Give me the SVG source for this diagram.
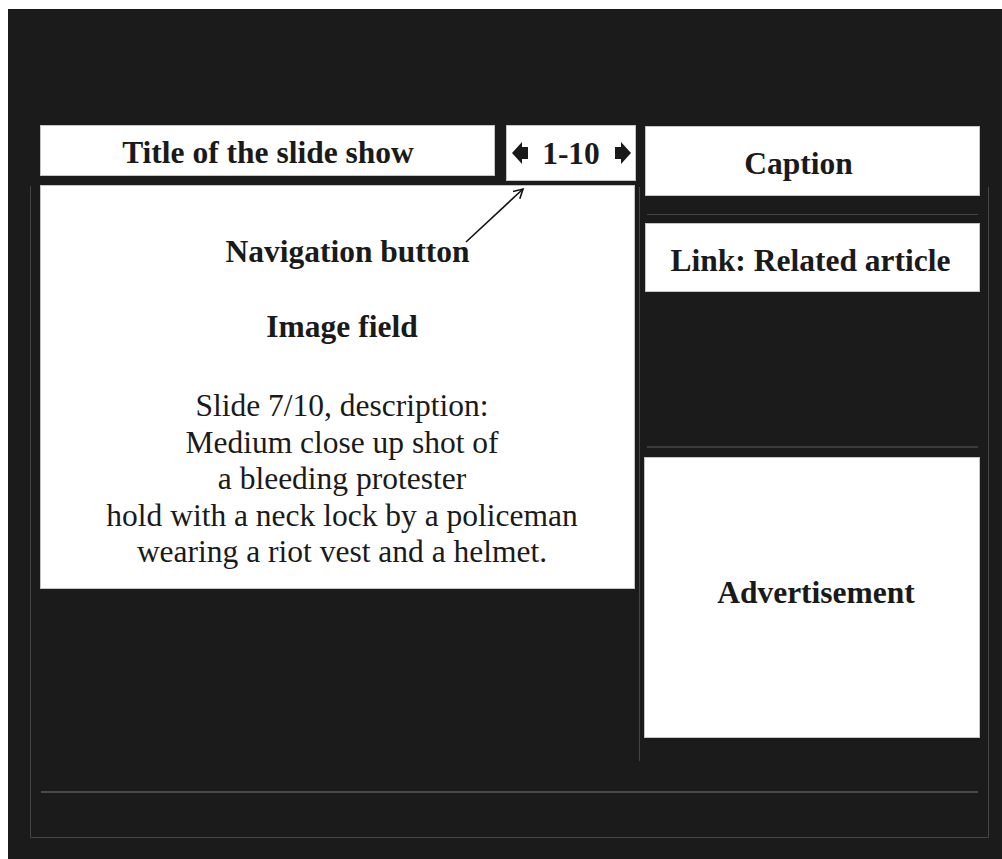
<svg xmlns="http://www.w3.org/2000/svg" width="1002" height="859" viewBox="0 0 1002 859">
<style>
.box{fill:#ffffff;stroke:#c4c4c4;stroke-width:1}
.b{font-family:"Liberation Serif","Times New Roman",serif;font-weight:bold;font-size:31.5px;fill:#1a1a1a;text-anchor:middle}
.r{font-family:"Liberation Serif","Times New Roman",serif;font-size:31.5px;fill:#1a1a1a;text-anchor:middle}
.frame{fill:none;stroke:#454545;stroke-width:1}
</style>
<defs>
<marker id="ah" markerWidth="12" markerHeight="12" refX="10" refY="6" orient="auto" markerUnits="userSpaceOnUse">
<path d="M1,1 L10,6 L1,11" fill="none" stroke="#111" stroke-width="1.6"/>
</marker>
</defs>
<rect x="0" y="0" width="1002" height="859" fill="#ffffff"/>
<rect x="8" y="9" width="994" height="850" fill="#1b1b1b"/>
<g id="frame">
<polyline class="frame" points="30.5,186 30.5,837.5 988.5,837.5 988.5,187"/>
<line x1="639.5" y1="187" x2="639.5" y2="761" stroke="#454545" stroke-width="1"/>
<line x1="647" y1="214.5" x2="978" y2="214.5" stroke="#454545" stroke-width="1"/>
<line x1="647" y1="447" x2="978" y2="447" stroke="#3c3c3c" stroke-width="2"/>
<line x1="41" y1="792" x2="978" y2="792" stroke="#4a4a4a" stroke-width="2"/>
</g>
<g id="title">
<rect class="box" x="40.5" y="125.5" width="454" height="50"/>
<text class="b" x="268" y="163">Title of the slide show</text>
</g>
<g id="nav">
<rect class="box" x="506.5" y="125.5" width="129" height="55"/>
<polygon points="512,153 522,142 522,147 528,147 528,159 522,159 522,164" fill="#1a1a1a"/>
<polygon points="631,153 621,142 621,147 615,147 615,159 621,159 621,164" fill="#1a1a1a"/>
<text class="b" x="571" y="164" font-size="30.5">1-10</text>
</g>
<g id="image-field">
<rect class="box" x="40.5" y="185.5" width="594" height="403"/>
<text class="b" x="347.5" y="262">Navigation button</text>
<text class="b" x="342" y="337">Image field</text>
<text class="r" x="342" y="416">Slide 7/10, description:</text>
<text class="r" x="342" y="452.5">Medium close up shot of</text>
<text class="r" x="342" y="489">a bleeding protester</text>
<text class="r" x="342" y="525.5">hold with a neck lock by a policeman</text>
<text class="r" x="342" y="562">wearing a riot vest and a helmet.</text>
</g>
<g id="caption">
<rect class="box" x="645.5" y="126.5" width="334" height="69"/>
<text class="b" x="798.5" y="174">Caption</text>
</g>
<g id="link">
<rect class="box" x="645.5" y="223.5" width="334" height="68"/>
<text class="b" x="810.5" y="271">Link: Related article</text>
</g>
<g id="advertisement">
<rect class="box" x="644.5" y="457.5" width="335" height="280"/>
<text class="b" x="816" y="603">Advertisement</text>
</g>
<g id="connectors">
<line x1="466" y1="242" x2="523" y2="189" stroke="#111" stroke-width="1.6" marker-end="url(#ah)"/>
</g>
</svg>
